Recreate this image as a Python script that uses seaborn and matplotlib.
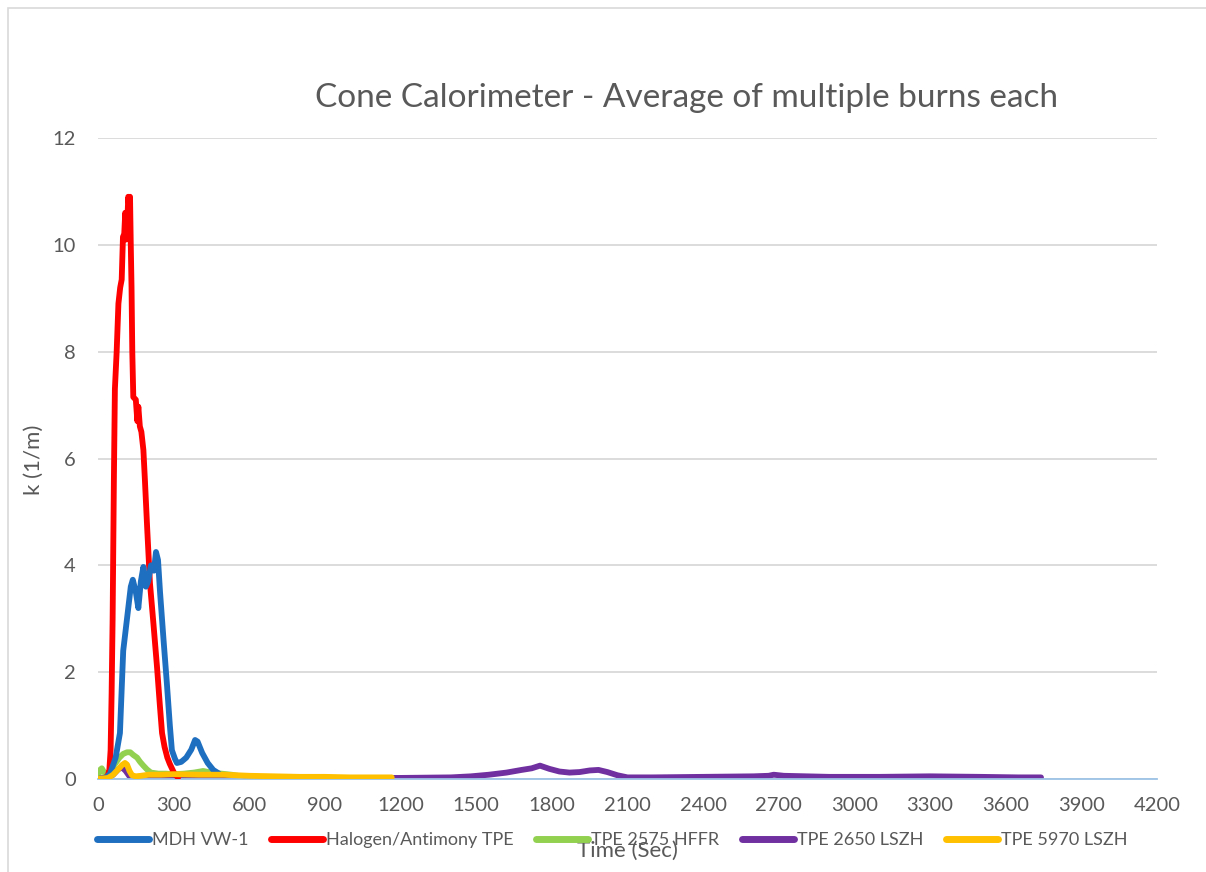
import pandas as pd
import matplotlib.pyplot as plt
import seaborn as sns
from matplotlib.patches import Rectangle

# Cone calorimeter smoke data (time in s, k in 1/m)
series_names = ["MDH VW-1", "Halogen/Antimony TPE", "TPE 2575 HFFR",
                "TPE 2650 LSZH", "TPE 5970 LSZH"]
series_colors = ["#1F6FC0", "#FF0000", "#92D050", "#7030A0", "#FFC000"]

mdh_t = [0, 30, 48, 70, 87, 100, 110, 119, 130, 138, 150, 160, 170, 180, 190,
         199, 210, 222, 230, 238, 246, 260, 273, 285, 293, 305, 313, 330, 350,
         370, 385, 395, 413, 435, 457, 480]
mdh_k = [0, 0.02, 0.1, 0.4, 0.86, 2.4, 2.8, 3.16, 3.6, 3.73, 3.5, 3.2, 3.7,
         3.97, 3.6, 3.7, 4.0, 3.9, 4.25, 4.1, 3.5, 2.6, 1.8, 1.0, 0.54, 0.38,
         0.3, 0.32, 0.4, 0.55, 0.73, 0.7, 0.49, 0.3, 0.17, 0.1]

hal_t = [0, 30, 40, 45, 50, 54, 58, 63, 67, 74, 81, 88, 94, 99, 104, 108, 112,
         116, 120, 124, 127, 130, 133, 136, 140, 150, 156, 160, 166, 172, 180,
         186, 195, 206, 220, 234, 245, 254, 264, 275, 285, 293, 305, 318]
hal_k = [0, 0.02, 0.08, 0.17, 0.54, 1.6, 3.0, 5.6, 7.3, 8.0, 8.9, 9.2, 9.35,
         10.15, 10.2, 10.6, 10.1, 10.4, 10.9, 10.7, 10.9, 10.0, 9.2, 8.0, 7.15,
         7.1, 6.7, 6.97, 6.6, 6.5, 6.16, 5.6, 4.7, 3.67, 2.9, 2.1, 1.4, 0.86,
         0.6, 0.4, 0.28, 0.2, 0.08, 0.03]

hffr_t = [0, 8, 15, 25, 35, 45, 55, 70, 85, 100, 115, 128, 140, 155, 167, 180,
          194, 210, 240, 270, 300, 340, 380, 417, 450, 490, 530, 565]
hffr_k = [0.05, 0.17, 0.2, 0.12, 0.1, 0.12, 0.2, 0.3, 0.4, 0.47, 0.5, 0.5,
          0.45, 0.4, 0.32, 0.25, 0.18, 0.12, 0.1, 0.1, 0.09, 0.1, 0.12, 0.15,
          0.12, 0.1, 0.08, 0.05]

lszh2650_t = [0, 40, 60, 80, 95, 110, 125, 140, 200, 400, 800, 1200, 1400,
              1480, 1550, 1620, 1680, 1720, 1753, 1790, 1830, 1870, 1910, 1950,
              1985, 2020, 2060, 2100, 2200, 2400, 2600, 2660, 2680, 2720, 2900,
              3100, 3300, 3500, 3650, 3740]
lszh2650_k = [0, 0.02, 0.08, 0.18, 0.22, 0.15, 0.05, 0.02, 0.02, 0.02, 0.02,
              0.02, 0.03, 0.05, 0.08, 0.12, 0.17, 0.2, 0.25, 0.19, 0.14, 0.12,
              0.13, 0.16, 0.17, 0.13, 0.07, 0.03, 0.03, 0.04, 0.05, 0.06, 0.08,
              0.06, 0.04, 0.04, 0.05, 0.04, 0.03, 0.03]

lszh5970_t = [0, 40, 60, 80, 95, 107, 115, 125, 135, 150, 170, 200, 250, 300,
              400, 500, 600, 700, 800, 900, 1000, 1100, 1165]
lszh5970_k = [0.0, 0.02, 0.08, 0.18, 0.26, 0.3, 0.27, 0.15, 0.07, 0.05, 0.06,
              0.08, 0.08, 0.09, 0.08, 0.08, 0.06, 0.05, 0.04, 0.04, 0.03, 0.03,
              0.03]

x_ticks = list(range(0, 4201, 300))
y_ticks = [0, 2, 4, 6, 8, 10, 12]

sns.set_theme(style="white")
plt.rcParams['font.family'] = ['Lato', 'DejaVu Sans']

frames = []
for name, t, k in zip(series_names,
                      [mdh_t, hal_t, hffr_t, lszh2650_t, lszh5970_t],
                      [mdh_k, hal_k, hffr_k, lszh2650_k, lszh5970_k]):
    frames.append(pd.DataFrame({"Time": t, "k": k, "Series": name}))
df = pd.concat(frames, ignore_index=True)

fig = plt.figure(figsize=(12.06, 8.72), dpi=100)
ax = fig.add_axes([98 / 1206, 1 - 779 / 872, 1059 / 1206, 641 / 872])

sns.lineplot(data=df, x="Time", y="k", hue="Series", hue_order=series_names,
             palette=series_colors, estimator=None, sort=False, linewidth=4.2,
             ax=ax)

# stacking like the original: yellow on top, blue above red
zorders = {"MDH VW-1": 4, "Halogen/Antimony TPE": 3, "TPE 2575 HFFR": 2.5,
           "TPE 2650 LSZH": 2.2, "TPE 5970 LSZH": 5}
for line, name in zip(ax.lines, series_names):
    line.set_zorder(zorders[name])
    line.set_solid_capstyle("round")

text_col = "#595959"
ax.set_xlim(0, 4200)
ax.set_ylim(0, 12)
ax.set_xticks(x_ticks)
ax.set_yticks(y_ticks)
ax.yaxis.grid(True, color="#d9d9d9", linewidth=1.3)
ax.xaxis.grid(False)
for s in ["top", "right", "left"]:
    ax.spines[s].set_visible(False)
ax.spines["bottom"].set_color("#9dc3e6")
ax.spines["bottom"].set_linewidth(1.3)
ax.tick_params(axis="x", direction="in", length=6, width=1.0,
               color="#9dc3e6", pad=13, labelsize=14.5, labelcolor=text_col)
ax.tick_params(axis="y", length=0, pad=16, labelsize=14.5,
               labelcolor=text_col)

ax.set_xlabel("Time (Sec)", fontsize=16, color=text_col)
ax.xaxis.set_label_coords(0.5, -0.097)
ax.set_ylabel("k (1/m)", fontsize=16, color=text_col)
ax.yaxis.set_label_coords(-0.051, 0.498)

fig.text(0.569, 0.8876, "Cone Calorimeter - Average of multiple burns each",
         ha="center", va="center", fontsize=24, color=text_col)

leg = ax.legend(loc="center", bbox_to_anchor=(612 / 1206, 1 - 840 / 872),
                bbox_transform=fig.transFigure, ncol=5, frameon=False,
                handlelength=2.9, handletextpad=0.15, columnspacing=1.25,
                fontsize=13)
for txt in leg.get_texts():
    txt.set_color(text_col)
for h in leg.legend_handles:
    h.set_linewidth(5)

# light frame around the chart area, as in the original export
fig.patches.append(Rectangle((8 / 1206, -0.05), 1.1, 1 - 8 / 872 + 0.05,
                             transform=fig.transFigure, fill=False,
                             edgecolor="#d9d9d9", linewidth=1.2))

fig.savefig("out.png", dpi=100)
